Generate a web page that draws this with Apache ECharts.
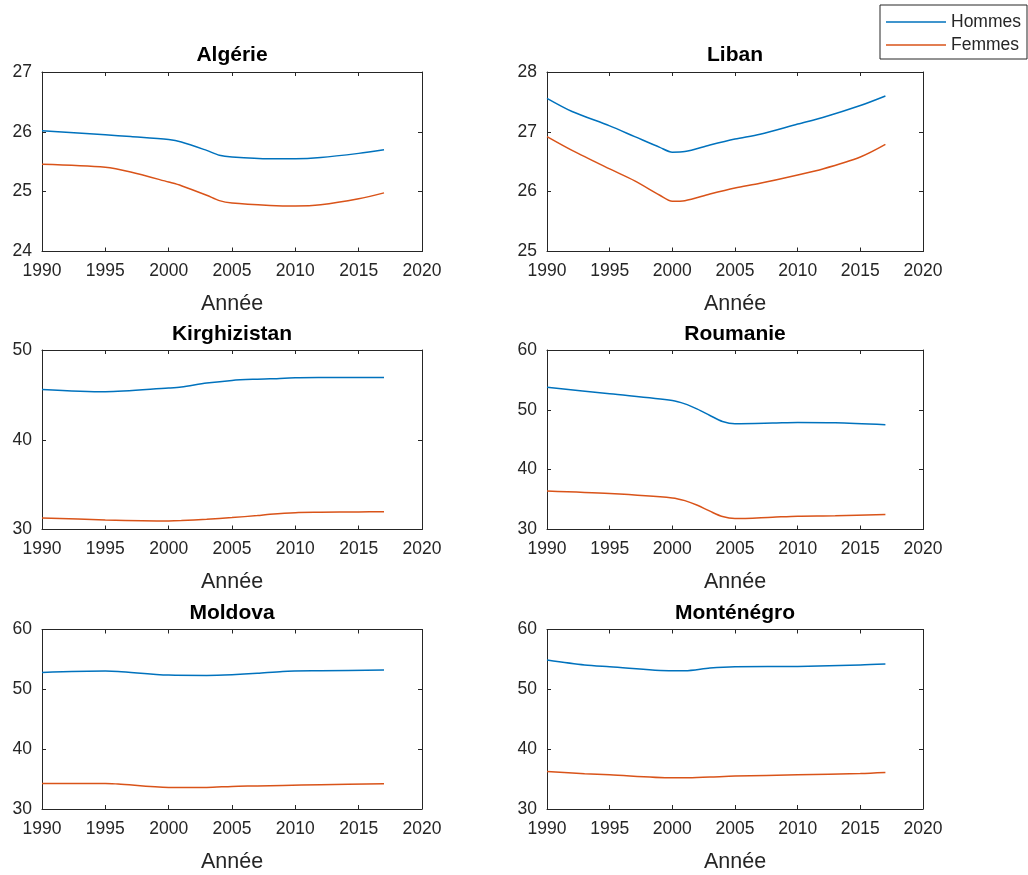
<!DOCTYPE html>
<html><head><meta charset="utf-8">
<script src="https://cdn.jsdelivr.net/npm/echarts@6/dist/echarts.min.js"></script>
<style>html,body{margin:0;padding:0;background:#fff}#c{width:1028px;height:875px}</style>
</head><body><div id="c"></div>
<script>
const titles = ['Algérie','Liban','Kirghizistan','Roumanie','Moldova','Monténégro'];
const yMin = [24,25,30,30,30,30];
const yMax = [27,28,50,60,60,60];
const yInterval = [1,1,10,10,10,10];
const xTicks = {min:1990, max:2020, interval:5};
const seriesNames = ['Hommes','Femmes'];

const algYears = [1990,1995,1997,2000,2001,2003,2004,2005,2008,2010,2012,2015,2017];
const algH = [26.02,25.95,25.92,25.87,25.83,25.69,25.61,25.58,25.55,25.55,25.57,25.64,25.70];
const algF = [25.46,25.41,25.33,25.16,25.10,24.94,24.85,24.81,24.77,24.76,24.78,24.88,24.98];

const libYears = [1990,1992,1995,1997,1999,2000,2001,2003,2005,2007,2010,2012,2015,2017];
const libH = [27.56,27.34,27.10,26.92,26.74,26.66,26.67,26.78,26.88,26.96,27.13,27.24,27.44,27.60];
const libF = [26.92,26.69,26.38,26.18,25.94,25.84,25.85,25.96,26.06,26.14,26.28,26.38,26.58,26.79];

const kirYears = [1990,1995,2000,2001,2003,2005,2007,2008,2010,2012,2015,2017];
const kirH = [45.61,45.35,45.76,45.87,46.31,46.61,46.75,46.79,46.90,46.93,46.94,46.94];
const kirF = [31.29,31.07,30.96,31.00,31.15,31.33,31.55,31.70,31.88,31.92,31.96,31.99];

const rouYears = [1990,1995,2000,2001,2002,2003,2004,2005,2008,2010,2013,2017];
const rouH = [53.78,52.67,51.56,51.00,50.11,49.06,48.06,47.67,47.78,47.89,47.83,47.50];
const rouF = [36.44,36.00,35.28,34.83,34.06,33.06,32.17,31.83,32.06,32.22,32.28,32.50];

const molYears = [1990,1995,1996,2000,2003,2005,2007,2009,2012,2017];
const molH = [52.83,53.06,53.00,52.39,52.33,52.44,52.67,53.00,53.11,53.22];
const molF = [34.28,34.28,34.17,33.61,33.61,33.78,33.85,33.94,34.05,34.22];

const monYears = [1990,1993,1995,2000,2001,2003,2005,2010,2015,2017];
const monH = [54.89,54.06,53.78,53.11,53.11,53.56,53.78,53.83,54.06,54.22];
const monF = [36.28,35.90,35.72,35.22,35.22,35.35,35.50,35.72,35.94,36.11];

const panels = [
  [algYears, algH, algF],
  [libYears, libH, libF],
  [kirYears, kirH, kirF],
  [rouYears, rouH, rouF],
  [molYears, molH, molF],
  [monYears, monH, monF]
];

const FONT = '"Liberation Sans", Arial, Helvetica, sans-serif';
const AX = '#262626';
const colors = ['#0072BD', '#D95319'];
const lefts = [42, 547], widths = [380, 376];
const tops = [72, 350, 629.5], H = 179.5;
const titleCenters = [55.5, 334.5, 613.5];

const grid = [], xAxis = [], yAxis = [], series = [], title = [];
for (let i = 0; i < 6; i++) {
  const col = i % 2, row = Math.floor(i / 2);
  grid.push({left: lefts[col], top: tops[row], width: widths[col], height: H, show: false});
  const lineStyle = {color: AX, width: 1};
  const tick = {show: true, inside: true, length: 4, lineStyle};
  xAxis.push({
    type: 'value', gridIndex: i, position: 'bottom', min: xTicks.min, max: xTicks.max, interval: xTicks.interval,
    axisLine: {show: true, onZero: false, lineStyle}, axisTick: tick, splitLine: {show: false},
    axisLabel: {fontSize: 17.5, color: AX, fontFamily: FONT, margin: 11, formatter: v => String(v)},
    name: 'Année', nameLocation: 'middle', nameGap: 42,
    nameTextStyle: {fontSize: 21.5, color: AX, fontFamily: FONT}
  });
  xAxis.push({
    type: 'value', gridIndex: i, position: 'top', min: xTicks.min, max: xTicks.max, interval: xTicks.interval,
    axisLine: {show: true, onZero: false, lineStyle}, axisTick: tick, splitLine: {show: false},
    axisLabel: {show: false}
  });
  yAxis.push({
    type: 'value', gridIndex: i, position: 'left', min: yMin[i], max: yMax[i], interval: yInterval[i],
    axisLine: {show: true, onZero: false, lineStyle}, axisTick: tick, splitLine: {show: false},
    axisLabel: {fontSize: 17.5, color: AX, fontFamily: FONT, margin: 10, formatter: v => String(v)}
  });
  yAxis.push({
    type: 'value', gridIndex: i, position: 'right', min: yMin[i], max: yMax[i], interval: yInterval[i],
    axisLine: {show: true, onZero: false, lineStyle}, axisTick: tick, splitLine: {show: false},
    axisLabel: {show: false}
  });
  title.push({
    text: titles[i], left: lefts[col] + widths[col] / 2, textAlign: 'center',
    top: titleCenters[row] - 11, padding: 0,
    textStyle: {fontSize: 21, fontWeight: 'bold', color: '#000', fontFamily: FONT}
  });
  const [yrs, h, f] = panels[i];
  [h, f].forEach((vals, s) => {
    series.push({
      type: 'line', name: seriesNames[s], xAxisIndex: 2 * i, yAxisIndex: 2 * i,
      data: yrs.map((y, k) => [y, vals[k]]), symbol: 'none', smooth: 0.3,
      lineStyle: {color: colors[s], width: 1.5}, itemStyle: {color: colors[s]}
    });
  });
}

const chart = echarts.init(document.getElementById('c'));
chart.setOption({
  animation: false,
  backgroundColor: '#fff',
  title, grid, xAxis, yAxis, series,
  legend: {
    data: seriesNames.map(n => ({name: n, icon: 'rect'})),
    orient: 'vertical', left: 880, top: 5, padding: [8, 6, 5, 6],
    itemWidth: 60, itemHeight: 1.5, itemGap: 5, borderColor: AX, borderWidth: 1, backgroundColor: '#fff',
    textStyle: {fontSize: 17.5, color: AX, fontFamily: FONT}
  }
});
</script>
</body></html>
